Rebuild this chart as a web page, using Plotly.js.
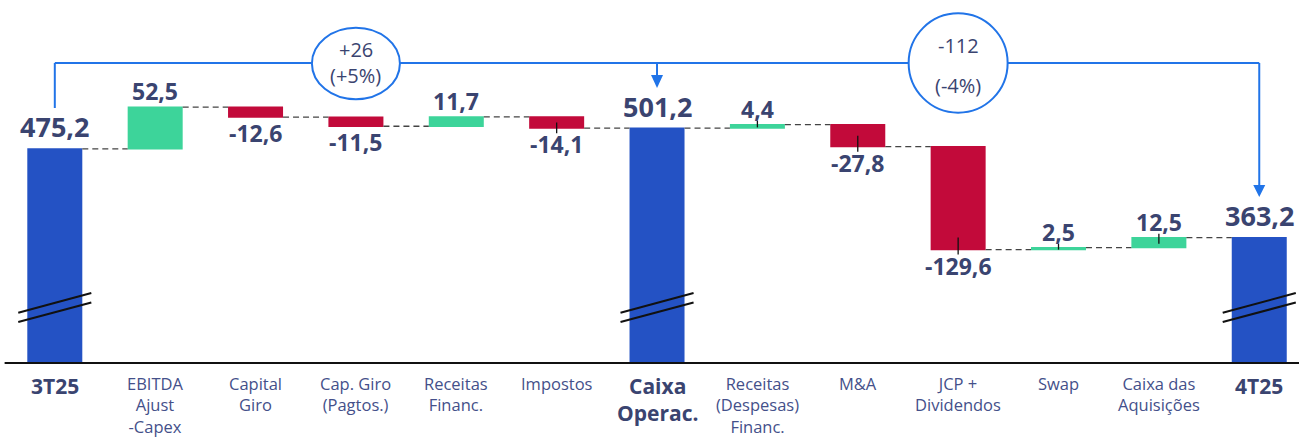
<!DOCTYPE html>
<html><head><meta charset="utf-8">
<script src="https://cdn.plot.ly/plotly-3.0.1.min.js"></script>
<style>html,body{margin:0;padding:0;background:#fff;} #chart{width:1299px;height:438px;}</style>
</head><body><div id="chart"></div>
<script>
// ---- data ----
const categories = ["3T25","EBITDA Ajust -Capex","Capital Giro","Cap. Giro (Pagtos.)","Receitas Financ.","Impostos","Caixa Operac.","Receitas (Despesas) Financ.","M&A","JCP + Dividendos","Swap","Caixa das Aquisições","4T25"];
const tickLines = [["3T25"],["EBITDA","Ajust","-Capex"],["Capital","Giro"],["Cap. Giro","(Pagtos.)"],["Receitas","Financ."],["Impostos"],["Caixa","Operac."],["Receitas","(Despesas)","Financ."],["M&A"],["JCP +","Dividendos"],["Swap"],["Caixa das","Aquisições"],["4T25"]];
const measures = ["absolute","relative","relative","relative","relative","relative","total","relative","relative","relative","relative","relative","total"];
const values = [475.2, 52.5, -12.6, -11.5, 11.7, -14.1, 501.2, 4.4, -27.8, -129.6, 2.5, 12.5, 363.2];
const boldCats = [0, 6, 12];
const leaderCats = [5, 7, 8, 9, 10, 11];
const bubbleCats = [3, 9];
const bubbleTop = ["+26", "-112"];
const bubbleBottom = ["(+5%)", "(-4%)"];

// ---- geometry ----
const W = 1299, H = 438, MB = 75, PH = H - MB;
const XR = [-0.546, 12.396];
const Y0 = 205.4, PXU = 0.794, YR = [Y0, Y0 + PH / PXU];
const px2u = p => p / PXU;
const xPaper = i => (i - XR[0]) / (XR[1] - XR[0]);
const xPix = i => xPaper(i) * W;
const pyPaper = p => (PH - p) / PH;

const BLUE = "#2452C4", GREEN = "#3DD49A", RED = "#C20A3A", TXT = "#3A4470", LINE = "#2174E8";
const FONT = "Open Sans";

// running totals
let run = 0; const starts = [], ends = [];
values.forEach((v, i) => {
  if (measures[i] === "absolute") { starts.push(0); run = v; ends.push(v); }
  else if (measures[i] === "total") { starts.push(0); ends.push(run); }
  else { starts.push(run); run += v; ends.push(run); }
});
const fmt = v => v.toFixed(1).replace(".", ",");

const trace = {
  type: "waterfall",
  x: categories, y: values, measure: measures,
  width: values.map(() => 0.548),
  textposition: "none",
  increasing: { marker: { color: GREEN, line: { width: 0 } } },
  decreasing: { marker: { color: RED, line: { width: 0 } } },
  totals: { marker: { color: BLUE, line: { width: 0 } } },
  connector: { mode: "between", line: { color: "#444", width: 1.3, dash: "6px,4px" } },
  hoverinfo: "skip"
};

const annotations = [];
// value labels
values.forEach((v, i) => {
  const isTot = measures[i] !== "relative";
  if (isTot) {
    annotations.push({ x: i, y: ends[i], xref: "x", yref: "y", yanchor: "middle", yshift: 22, showarrow: false,
      text: fmt(ends[i]), font: { family: FONT, size: 27, weight: 700, color: TXT } });
  } else if (v >= 0) {
    annotations.push({ x: i, y: ends[i], xref: "x", yref: "y", yanchor: "middle", yshift: 16, showarrow: false,
      text: fmt(v), font: { family: FONT, size: 23, weight: 700, color: TXT } });
  } else {
    annotations.push({ x: i, y: ends[i], xref: "x", yref: "y", yanchor: "middle", yshift: -16, showarrow: false,
      text: fmt(v), font: { family: FONT, size: 23, weight: 700, color: TXT } });
  }
});
// category labels (one multi-line annotation per category)
tickLines.forEach((lines, i) => {
  const bold = boldCats.includes(i);
  const size = bold ? 21 : 16.5;
  const firstCenter = bold ? 384.5 : 381.5;
  const topPx = firstCenter - size * 0.65 - 1;
  annotations.push({ x: i, xref: "x", y: 0, yref: "paper", yanchor: "top", yshift: -(topPx - PH), showarrow: false,
    text: lines.join("<br>"), align: "center",
    font: { family: FONT, size, weight: bold ? 700 : 400, color: bold ? TXT : "#44508A" } });
});
// bubble texts
const bubbleTextY = [[50, 75.5], [45.5, 85]];
bubbleCats.forEach((c, k) => {
  annotations.push({ x: c, xref: "x", y: pyPaper(bubbleTextY[k][0]), yref: "paper", yanchor: "middle", showarrow: false,
    text: bubbleTop[k], font: { family: FONT, size: 20, color: TXT } });
  annotations.push({ x: c, xref: "x", y: pyPaper(bubbleTextY[k][1]), yref: "paper", yanchor: "middle", showarrow: false,
    text: bubbleBottom[k], font: { family: FONT, size: 20, color: TXT } });
});

const shapes = [];
// axis baseline
shapes.push({ type: "line", xref: "paper", yref: "paper", x0: xPaper(-0.5), x1: 1, y0: 0, y1: 0, line: { color: "#111", width: 2 } });
// bracket lines
const BY = 63;
shapes.push({ type: "line", xref: "paper", yref: "paper", x0: xPaper(0), x1: xPaper(12), y0: pyPaper(BY), y1: pyPaper(BY), line: { color: LINE, width: 2 } });
shapes.push({ type: "line", xref: "paper", yref: "paper", x0: xPaper(0), x1: xPaper(0), y0: pyPaper(BY), y1: pyPaper(108), line: { color: LINE, width: 2 } });
shapes.push({ type: "line", xref: "paper", yref: "paper", x0: xPaper(6), x1: xPaper(6), y0: pyPaper(BY), y1: pyPaper(77), line: { color: LINE, width: 2 } });
shapes.push({ type: "line", xref: "paper", yref: "paper", x0: xPaper(12), x1: xPaper(12), y0: pyPaper(BY), y1: pyPaper(186), line: { color: LINE, width: 2 } });
// arrow heads
[[6, 75, 88], [12, 185, 197]].forEach(([c, yb, yt]) => {
  const cx = xPaper(c), hw = 6 / W;
  shapes.push({ type: "path", xref: "paper", yref: "paper",
    path: `M ${cx - hw} ${pyPaper(yb)} L ${cx + hw} ${pyPaper(yb)} L ${cx} ${pyPaper(yt)} Z`,
    fillcolor: LINE, line: { width: 0 } });
});
// bubbles
const bubbleDims = [[88, 27.7, 99.3], [99, 13.3, 112.7]];
bubbleCats.forEach((c, k) => {
  const [w, y0, y1] = bubbleDims[k];
  const cx = xPix(c);
  shapes.push({ type: "circle", xref: "paper", yref: "paper", x0: (cx - w / 2) / W, x1: (cx + w / 2) / W,
    y0: pyPaper(y1), y1: pyPaper(y0), fillcolor: "#fff", line: { color: LINE, width: 2 } });
});
// axis-break slashes on total bars
boldCats.forEach(c => {
  const x0 = xPaper(c - 0.364), x1 = xPaper(c + 0.364);
  [[312.7, 293], [322, 302.5]].forEach(([ya, yb]) => {
    shapes.push({ type: "line", xref: "paper", yref: "paper", x0, x1, y0: pyPaper(ya), y1: pyPaper(yb), line: { color: "#111", width: 2 } });
  });
});
// small leader ticks
leaderCats.forEach(c => {
  const hi = Math.max(starts[c], ends[c]), lo = Math.min(starts[c], ends[c]), mid = (hi + lo) / 2;
  let ya, yb;
  if (values[c] < 0) { ya = Math.min(mid, lo + px2u(12)); yb = lo - px2u(5); }
  else { ya = hi + px2u(4); yb = Math.max(mid - px2u(1), lo); }
  shapes.push({ type: "line", xref: "x", yref: "y", x0: c, x1: c, y0: ya, y1: yb, line: { color: "#111", width: 1.3 } });
});

const layout = {
  width: W, height: H,
  margin: { l: 0, r: 0, t: 0, b: MB },
  paper_bgcolor: "#fff", plot_bgcolor: "#fff",
  showlegend: false,
  xaxis: { type: "category", range: XR, showticklabels: false, showgrid: false, zeroline: false, showline: false, ticks: "" },
  yaxis: { range: YR, showticklabels: false, showgrid: false, zeroline: false, showline: false, ticks: "" },
  annotations, shapes,
  font: { family: FONT }
};

Plotly.newPlot("chart", [trace], layout, { displayModeBar: false, staticPlot: true });
</script>
</body></html>
